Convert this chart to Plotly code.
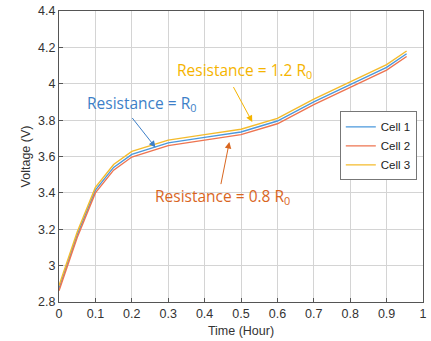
import plotly.graph_objects as go

time_h = [0.0, 0.05, 0.1, 0.15, 0.2, 0.3, 0.4, 0.5, 0.6, 0.7, 0.8, 0.9, 0.955]
cell1 = [2.875, 3.17, 3.415, 3.54, 3.612, 3.675, 3.705, 3.735, 3.795, 3.90, 3.995, 4.09, 4.165]
cell2 = [2.862, 3.155, 3.400, 3.525, 3.597, 3.660, 3.690, 3.720, 3.780, 3.885, 3.980, 4.075, 4.150]
cell3 = [2.890, 3.185, 3.430, 3.556, 3.628, 3.690, 3.720, 3.750, 3.810, 3.915, 4.010, 4.105, 4.180]
names = ["Cell 1", "Cell 2", "Cell 3"]
colors = ["#4a98dc", "#ee7450", "#f4bb2c"]

fig = go.Figure()
for n, ys, c in zip(names, [cell1, cell2, cell3], colors):
    fig.add_trace(go.Scatter(x=time_h, y=ys, name=n, mode="lines",
                             line=dict(color=c, width=1.4)))

tick_font = dict(family="Liberation Sans, Arial", size=12.5, color="#333333")
fig.update_layout(
    width=431, height=341,
    margin=dict(l=59, r=4, t=11, b=39),
    paper_bgcolor="white", plot_bgcolor="white",
    xaxis=dict(range=[0, 1], dtick=0.1, showgrid=True,
               gridcolor="#d4d4d4", gridwidth=1, zeroline=False,
               showline=True, linecolor="#555555", mirror=True,
               ticks="inside", ticklen=4, tickcolor="#555555",
               tickfont=tick_font, ticklabeloverflow="allow",
               title=dict(text="Time (Hour)", font=tick_font, standoff=6)),
    yaxis=dict(range=[2.8, 4.4], dtick=0.2, showgrid=True,
               gridcolor="#d4d4d4", gridwidth=1, zeroline=False,
               showline=True, linecolor="#555555", mirror=True,
               ticks="inside", ticklen=4, tickcolor="#555555",
               tickfont=tick_font,
               title=dict(text="Voltage (V)", font=tick_font, standoff=4)),
    legend=dict(x=0.983, y=0.655, xanchor="right", yanchor="top",
                bgcolor="white", bordercolor="#777777", borderwidth=1,
                font=dict(family="Liberation Sans, Arial", size=11.5, color="#222222"),
                tracegroupgap=0, itemwidth=30),
    showlegend=True,
)

ann_font = "Open Sans"
labels = [
    ("Resistance = R<sub>0</sub>", 0.228, 3.894, "#3d7fc8", 0.198, 3.82, 0.265, 3.65),
    ("Resistance = 1.2 R<sub>0</sub>", 0.51, 4.075, "#f5b400", 0.477, 3.99, 0.531, 3.79),
    ("Resistance = 0.8 R<sub>0</sub>", 0.45, 3.38, "#d9661f", 0.444, 3.44, 0.468, 3.68),
]
for text, tx, ty, col, ax0, ay0, hx, hy in labels:
    fig.add_annotation(x=tx, y=ty, text=text, showarrow=False,
                       font=dict(family=ann_font, size=15.5, color=col))
    fig.add_annotation(x=hx, y=hy, ax=ax0, ay=ay0, axref="x", ayref="y",
                       text="", showarrow=True, arrowhead=2, arrowsize=1.3,
                       arrowwidth=1, arrowcolor=col)

fig.write_html("out.html")
